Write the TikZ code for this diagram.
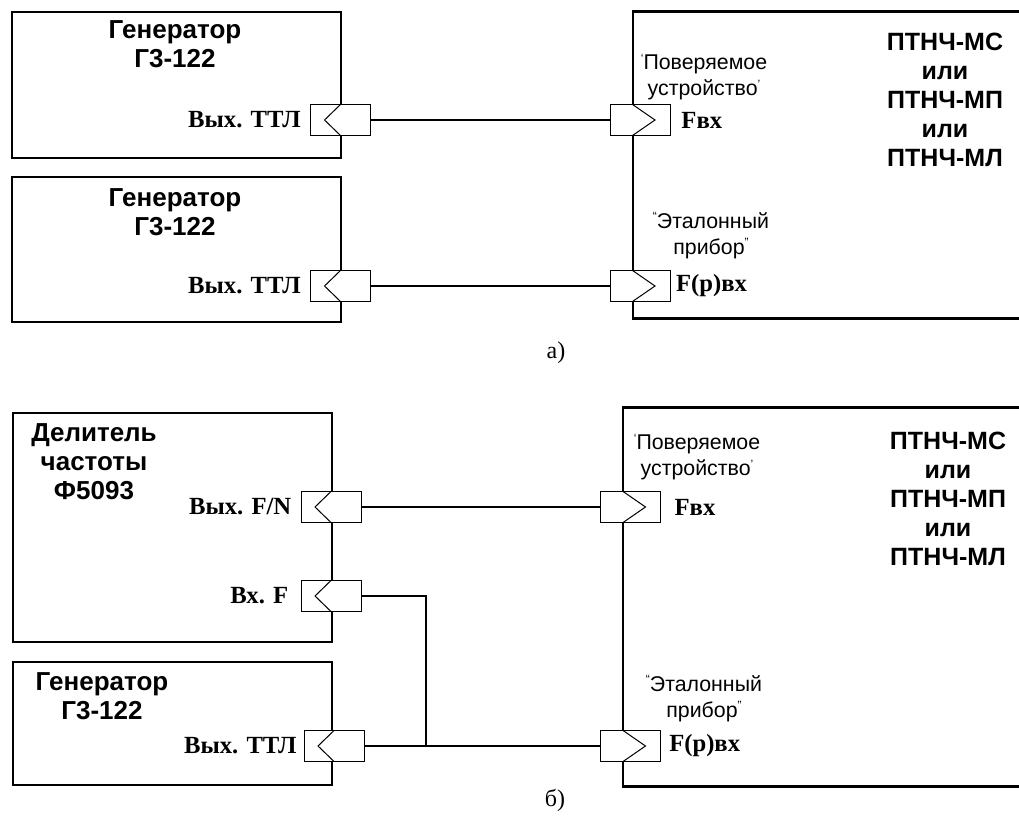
\documentclass[tikz,border=0pt]{standalone}
\usepackage{fontspec}
\setmainfont{Liberation Serif}
\setsansfont{Liberation Sans}
\usetikzlibrary{positioning}
\newcommand{\qmark}[1]{\raisebox{0.35em}{\fontsize{9}{9}\selectfont #1}}
\tikzset{
  blk/.style={draw, line width=2.2pt, inner sep=0pt},
  openblk/.style={inner sep=0pt, anchor=west},
  blkline/.style={line width=2.2pt},
  outport/.style={draw, fill=white, line width=0.75pt, inner sep=0pt,
    minimum width=45pt, minimum height=23.25pt,
    path picture={\draw[line width=0.75pt] (path picture bounding box.north)
      -- ([xshift=-12pt]path picture bounding box.center)
      -- (path picture bounding box.south);}},
  inport/.style={draw, fill=white, line width=0.75pt, inner sep=0pt,
    minimum width=45pt, minimum height=23.25pt,
    path picture={\draw[line width=0.75pt] ([xshift=-5.6pt]path picture bounding box.north)
      -- ([xshift=11.25pt]path picture bounding box.center)
      -- ([xshift=-5.6pt]path picture bounding box.south);}},
  title/.style={font=\sffamily\bfseries\fontsize{19.5}{21.75}\selectfont, align=center, inner sep=0pt},
  devname/.style={font=\sffamily\bfseries\fontsize{18.75}{21.75}\selectfont, align=center, inner sep=0pt},
  note/.style={font=\sffamily\fontsize{16}{19.5}\selectfont, align=center, inner sep=0pt},
  plbl/.style={font=\bfseries\fontsize{18.5}{20}\selectfont, inner sep=0pt},
  wire/.style={line width=1.3pt},
}

\begin{document}
\begin{tikzpicture}[x=0.75pt, y=-0.75pt]
\useasboundingbox (0,0) rectangle (1019,830);
% a)
\node[blk, minimum width=246.75pt, minimum height=109.5pt] (gen1) at (176.5,85) {};
\node[blk, minimum width=246.75pt, minimum height=108.75pt] (gen2) at (176.5,249.5) {};
\node[openblk, minimum width=300pt, minimum height=229.5pt] (meter1) at (633,165) {};
\draw[blkline] (meter1.north east) -- (meter1.north west) -- (meter1.south west) -- (meter1.south east);
\node[title] (gen1t) at (175,44) {Генератор\\Г3-122};
\node[title] (gen2t) at (175,212) {Генератор\\Г3-122};
\node[devname] (meter1t) at (945,100) {ПТНЧ-МС\\или\\ПТНЧ-МП\\или\\ПТНЧ-МЛ};
\node[note] (dut1) at (704,77) {\qmark{‘}Поверяемое\\устройство\qmark{’}};
\node[note] (ref1) at (711,235.5) {\qmark{“}Эталонный\\прибор\qmark{”}};
\node[outport] (g1out) at (340.5,120) {};
\node[outport] (g2out) at (340.5,286) {};
\node[inport] (m1in) at (640,120) {};
\node[inport] (m1ref) at (640,286) {};
\node[plbl, left=6.75pt of g1out] (g1lbl) {Вых. ТТЛ};
\node[plbl, left=6.75pt of g2out] (g2lbl) {Вых. ТТЛ};
\node[plbl, right=8pt of m1in] (m1inlbl) {Fвх};
\node[plbl, right=4pt of m1ref] (m1reflbl) {F(р)вх};
\draw[wire] (g1out) -- (m1in);
\draw[wire] (g2out) -- (m1ref);
\node[font=\fontsize{18}{20}\selectfont] (capa) at (556,353) {а)};
% b)
\node[blk, minimum width=239.25pt, minimum height=171.75pt] (div) at (172.5,527.5) {};
\node[blk, minimum width=239.25pt, minimum height=92.25pt] (gen3) at (172.5,723.5) {};
\node[openblk, minimum width=300pt, minimum height=283.5pt] (meter2) at (623,597) {};
\draw[blkline] (meter2.north east) -- (meter2.north west) -- (meter2.south west) -- (meter2.south east);
\node[title] (divt) at (94,462) {Делитель\\частоты\\Ф5093};
\node[title] (gen3t) at (102,696) {Генератор\\Г3-122};
\node[devname] (meter2t) at (948,499) {ПТНЧ-МС\\или\\ПТНЧ-МП\\или\\ПТНЧ-МЛ};
\node[note] (dut2) at (697,457) {\qmark{‘}Поверяемое\\устройство\qmark{’}};
\node[note] (ref2) at (704,698.5) {\qmark{“}Эталонный\\прибор\qmark{”}};
\node[outport] (dout) at (331,507) {};
\node[outport] (din) at (331,596) {};
\node[outport] (g3out) at (334,746) {};
\node[inport] (m2in) at (630.5,507) {};
\node[inport] (m2ref) at (630.5,746) {};
\node[plbl, left=6.75pt of dout] (doutlbl) {Вых. F/N};
\node[plbl, left=9pt of din] (dinlbl) {Вх. F};
\node[plbl, left=5pt of g3out] (g3lbl) {Вых. ТТЛ};
\node[plbl, right=10pt of m2in] (m2inlbl) {Fвх};
\node[plbl, right=6pt of m2ref] (m2reflbl) {F(р)вх};
\coordinate (tee) at (426,746);
\draw[wire] (dout) -- (m2in);
\draw[wire] (din) -| (tee);
\draw[wire] (g3out) -- (m2ref);
\node[font=\fontsize{18}{20}\selectfont] (capb) at (555,800) {б)};
\end{tikzpicture}
\end{document}
